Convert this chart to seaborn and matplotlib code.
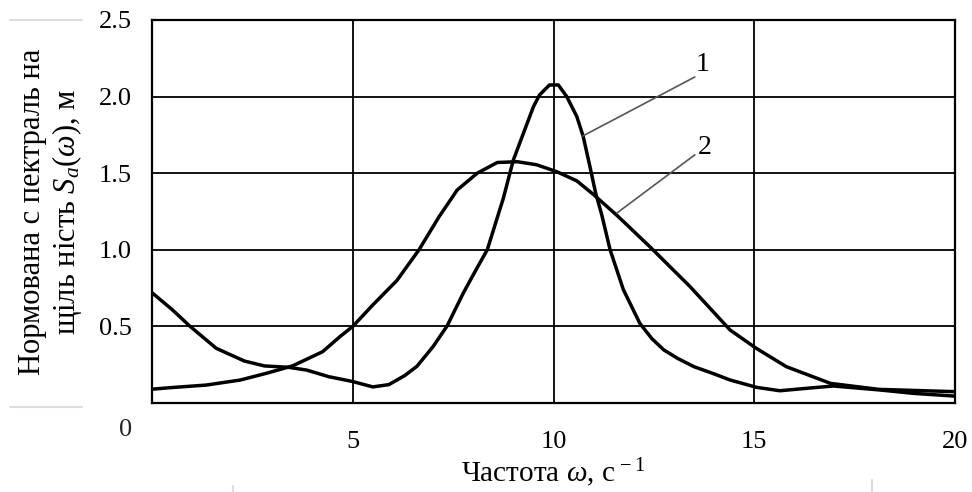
import numpy as np
import pandas as pd
import matplotlib
matplotlib.use("Agg")
import matplotlib.pyplot as plt
from matplotlib.lines import Line2D
import seaborn as sns

# ---- data ----
x1 = [0, 0.5, 0.95, 1.6, 2.3, 2.8, 3.4, 3.85, 4.4, 5.0, 5.5, 5.9, 6.3, 6.6, 7.0,
      7.35, 7.75, 8.05, 8.35, 8.75, 9.0, 9.25, 9.5, 9.65, 9.9, 10.12, 10.33,
      10.58, 10.74, 10.91, 11.05, 11.2, 11.41, 11.74, 12.15, 12.45, 12.75, 13.1,
      13.5, 14.0, 14.4, 15.06, 15.64, 16.31, 16.97, 18.13, 18.96, 20.0]
y1 = [0.72, 0.61, 0.50, 0.357, 0.274, 0.242, 0.233, 0.215, 0.172, 0.14, 0.105,
      0.12, 0.18, 0.24, 0.368, 0.503, 0.716, 0.86, 1.0, 1.336, 1.586, 1.76, 1.934,
      2.01, 2.076, 2.076, 2.0, 1.87, 1.74, 1.54, 1.37, 1.23, 1.0, 0.74, 0.52,
      0.42, 0.346, 0.29, 0.237, 0.19, 0.15, 0.102, 0.08, 0.096, 0.111, 0.085,
      0.063, 0.045]

x2 = [0, 0.45, 1.35, 2.2, 2.85, 3.5, 4.25, 4.68, 5.0, 5.5, 6.1, 6.65, 7.15, 7.6,
      8.1, 8.6, 9.1, 9.58, 10.08, 10.58, 11.0, 11.6, 12.4, 13.4, 14.4, 15.05,
      15.8, 16.9, 18.1, 20.0]
y2 = [0.09, 0.10, 0.117, 0.15, 0.194, 0.242, 0.335, 0.433, 0.50, 0.64, 0.80, 1.0,
      1.216, 1.39, 1.50, 1.57, 1.575, 1.555, 1.51, 1.45, 1.36, 1.22, 1.02, 0.76,
      0.476, 0.357, 0.237, 0.128, 0.089, 0.074]

curve_labels = ["1", "2"]
label_pos_x = [13.72, 13.77]
label_pos_y = [2.21, 1.67]
leader_start_x = [10.73, 11.58]
leader_start_y = [1.743, 1.24]
leader_end_x = [13.52, 13.52]
leader_end_y = [2.128, 1.62]

x_ticks = [5, 10, 15, 20]
x_tick_labels = ["5", "10", "15", "20"]
y_ticks = [0.5, 1.0, 1.5, 2.0, 2.5]
y_tick_labels = ["0.5", "1.0", "1.5", "2.0", "2.5"]
y_zero_label = "0"
y_zero_pos = -0.163

x_label = "Частота $\\omega$, с$^{\\,-1}$"
y_label = "Нормована с пектраль на\nщіль ність $S_a(\\omega)$, м"

# ---- style ----
sns.set_theme(style="white")
plt.rcParams["font.family"] = ["Liberation Serif", "DejaVu Serif"]
plt.rcParams["mathtext.fontset"] = "custom"
plt.rcParams["mathtext.rm"] = "Liberation Serif"
plt.rcParams["mathtext.it"] = "Liberation Serif:italic"
plt.rcParams["mathtext.bf"] = "Liberation Serif:bold"

fig = plt.figure(figsize=(9.72, 4.92), dpi=100)
ax = fig.add_axes([152 / 972, 1 - 403 / 492, 803 / 972, 383 / 492])

df1 = pd.DataFrame({"x": x1, "y": y1})
df2 = pd.DataFrame({"x": x2, "y": y2})
for df in (df1, df2):
    sns.lineplot(data=df, x="x", y="y", ax=ax, color="black", lw=2.5, sort=False,
                 solid_joinstyle="round", solid_capstyle="round")

for lab, lx, ly, sx, sy, ex, ey in zip(curve_labels, label_pos_x, label_pos_y,
                                       leader_start_x, leader_start_y,
                                       leader_end_x, leader_end_y):
    ax.plot([sx, ex], [sy, ey], color="#555555", lw=1.2)
    ax.text(lx, ly, lab, fontsize=20, ha="center", va="center", color="black")

ax.set_xlim(0, 20)
ax.set_ylim(0, 2.5)
ax.set_xticks(x_ticks)
ax.set_xticklabels(x_tick_labels)
ax.set_yticks(y_ticks)
ax.set_yticklabels(y_tick_labels)
ax.tick_params(axis="x", length=0, pad=20, labelsize=19, colors="black")
ax.tick_params(axis="y", length=0, pad=14.5, labelsize=19, colors="black")
ax.grid(True, color="black", lw=1.3)
ax.set_axisbelow(True)
for s in ax.spines.values():
    s.set_color("black")
    s.set_linewidth(1.6)
    s.set_visible(True)

ax.annotate(y_zero_label, xy=(0, y_zero_pos), xycoords=ax.get_yaxis_transform(),
            xytext=(-14.5, 0), textcoords="offset points", ha="right",
            va="center_baseline", fontsize=19, annotation_clip=False)

ax.set_xlabel(x_label, fontsize=21, color="black", va="top")
ax.xaxis.set_label_coords(0.5, -0.14)
ax.set_ylabel(y_label, fontsize=22, color="black", linespacing=1.1)
ax.yaxis.set_label_coords(-0.085, 0.5)

# faint scan artifacts
art = dict(color="#dddddd", lw=1.5)
fig.add_artist(Line2D([10 / 972, 82 / 972], [1 - 20 / 492, 1 - 20 / 492], **art))
fig.add_artist(Line2D([10 / 972, 82 / 972], [1 - 407 / 492, 1 - 407 / 492], **art))
fig.add_artist(Line2D([233 / 972, 233 / 972], [0, 6 / 492], **art))
fig.add_artist(Line2D([872 / 972, 872 / 972], [0, 12 / 492], **art))

fig.savefig("out.png", dpi=100)
